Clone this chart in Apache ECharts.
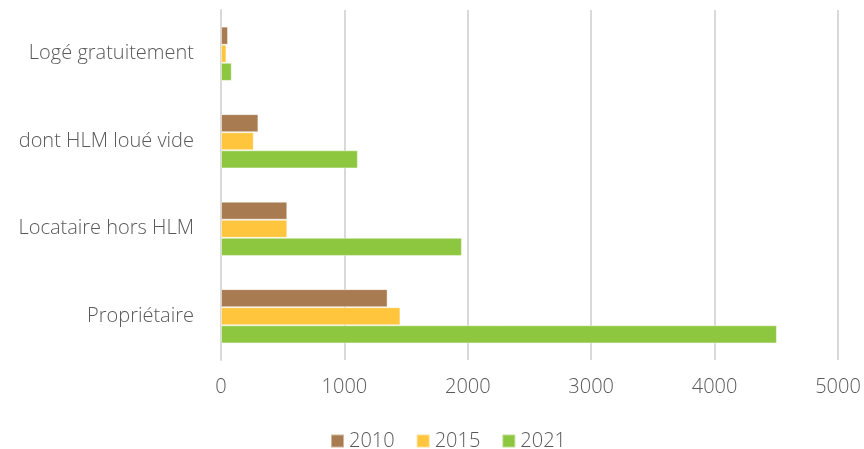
<!DOCTYPE html>
<html>
<head>
<meta charset="utf-8">
<script src="https://cdn.jsdelivr.net/npm/echarts@6/dist/echarts.min.js"></script>
<style>
  html, body { margin: 0; padding: 0; background: #fff; }
  #chart { width: 864px; height: 449px; }
</style>
</head>
<body>
<div id="chart"></div>
<script>
// categories listed bottom to top
const categories = ['Propriétaire', 'Locataire hors HLM', 'dont HLM loué vide', 'Logé gratuitement'];
const years = ['2010', '2015', '2021'];
const values2010 = [1350, 537, 303, 57];
const values2015 = [1454, 537, 265, 44];
const values2021 = [4505, 1952, 1109, 87];
const xTicks = [0, 1000, 2000, 3000, 4000, 5000];

const colors = { '2010': '#A97B50', '2015': '#FFC53C', '2021': '#8DC63F' };
const font = '"Open Sans", Lato, sans-serif';

const myChart = echarts.init(document.getElementById('chart'));

const makeSeries = function (name, data) {
  return {
    name: name,
    type: 'bar',
    data: data,
    barGap: '0%',
    barCategoryGap: '38%',
    itemStyle: {
      color: colors[name],
      borderColor: 'rgba(255,255,255,0.45)',
      borderWidth: 1
    }
  };
};

const option = {
  animation: false,
  textStyle: { fontFamily: font },
  grid: { left: 221, right: 26, top: 10, bottom: 89 },
  legend: {
    data: years,
    top: 431,
    left: 330,
    padding: 0,
    itemWidth: 13,
    itemHeight: 13,
    itemGap: 21,
    icon: 'rect',
    textStyle: { fontSize: 20, color: '#595959', fontFamily: font, fontWeight: 300 }
  },
  xAxis: {
    type: 'value',
    min: xTicks[0],
    max: xTicks[xTicks.length - 1],
    interval: 1000,
    axisLine: { show: false },
    axisTick: { show: false },
    axisLabel: { fontSize: 20, color: '#595959', fontWeight: 300, margin: 17, formatter: function (v) { return String(v); } },
    splitLine: { lineStyle: { color: '#D9D9D9', width: 2 } }
  },
  yAxis: {
    type: 'category',
    data: categories,
    axisLine: { show: true, lineStyle: { color: '#D9D9D9', width: 2 } },
    axisTick: { show: false },
    axisLabel: { fontSize: 20, color: '#595959', fontWeight: 300, margin: 27 }
  },
  // first series sits at the top of each group
  series: [
    makeSeries('2010', values2010),
    makeSeries('2015', values2015),
    makeSeries('2021', values2021)
  ]
};

myChart.setOption(option);
</script>
</body>
</html>
